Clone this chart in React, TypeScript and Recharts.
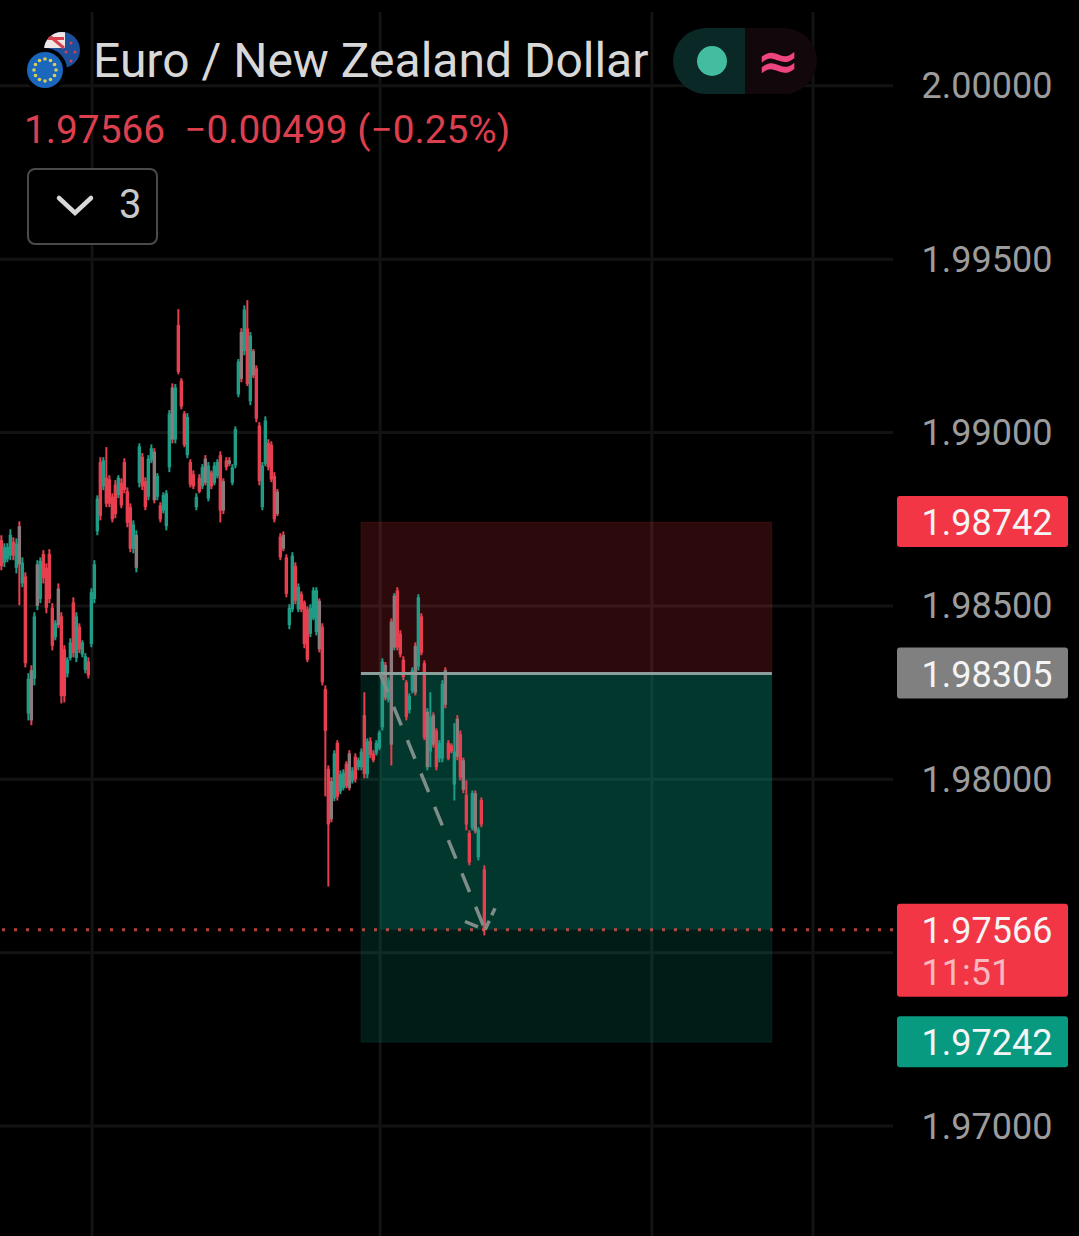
import React from "react";
import {
  ComposedChart,
  Bar,
  XAxis,
  YAxis,
  CartesianGrid,
  ReferenceArea,
  ReferenceLine,
} from "recharts";

// Candle values, in points (1/100000) away from 1.98000, one entry per candle.
const highPts = [704,681,681,721,698,695,744,640,597,306,329,482,632,640,661,623,664,508,459,565,482,387,352,407,525,482,450,401,364,352,551,632,819,929,929,958,877,825,863,877,868,926,842,796,747,718,969,941,871,935,966,955,883,799,828,834,1065,1142,1140,1356,1157,1062,1056,923,891,825,880,909,935,915,891,915,923,946,868,929,929,909,1018,1212,1301,1367,1382,1290,1241,1194,1030,915,1047,981,975,886,837,710,715,649,505,655,626,565,542,516,499,505,554,554,522,450,271,40,6,84,113,26,29,52,84,35,75,63,89,251,118,121,84,113,141,349,338,294,464,537,554,430,355,286,248,323,395,534,479,343,205,251,193,147,113,286,323,113,104,162,185,141,63,-3,-147,-32,-32,-138,-52,-248];
const lowPts = [603,612,626,632,632,594,502,554,323,170,156,271,488,508,565,479,508,372,401,436,219,222,294,343,352,338,364,352,306,291,381,508,704,747,834,785,785,741,753,811,782,825,727,655,652,597,842,834,776,805,912,796,805,741,767,718,886,969,969,1168,1067,958,926,842,837,776,825,837,848,802,837,848,868,741,765,891,903,848,897,1102,1145,1223,1134,1079,1157,1030,848,776,903,891,857,741,759,632,658,525,433,482,505,482,482,378,338,410,459,415,366,271,-49,-309,-124,-63,-61,-43,-32,-26,-32,-12,-9,26,26,3,3,61,49,69,84,141,228,222,40,372,372,352,286,170,190,248,242,314,358,113,26,35,92,26,49,49,205,55,75,-61,55,-3,-40,-147,-248,-147,-156,-234,-138,-450];
const openPts = [690,625,635,645,685,610,730,565,585,190,315,290,500,520,650,610,650,495,410,550,470,375,305,350,510,350,440,360,315,340,390,520,715,915,845,870,865,815,850,820,855,915,830,785,665,610,855,930,860,815,920,945,815,790,775,730,900,1130,980,1310,1150,1055,935,915,880,785,870,845,925,810,885,855,875,935,860,920,920,855,905,1110,1290,1235,1300,1090,1235,1185,1020,785,910,970,965,875,830,700,705,640,445,490,615,490,535,510,490,420,465,425,515,440,260,30,-5,-55,105,-35,-25,45,75,-5,65,35,35,185,15,110,75,75,90,150,330,230,455,380,545,420,345,280,200,255,385,325,470,335,35,80,185,140,60,60,315,105,98,-15,175,130,55,-45,-155,-140,-40,-225,-60,-260];
const closePts = [615,670,670,705,645,680,620,625,335,290,170,470,620,630,580,495,520,385,450,445,240,240,345,395,365,470,375,395,355,300,540,620,810,760,920,795,795,750,765,870,790,835,740,665,735,705,960,845,785,925,955,805,875,750,820,825,1055,980,1130,1175,1075,965,1045,850,845,815,830,900,855,905,845,905,915,775,775,900,910,900,1010,1205,1155,1355,1140,1280,1165,1040,860,905,1035,900,865,750,765,640,665,535,495,645,515,555,490,390,345,495,545,545,375,280,140,-130,-115,75,-50,15,20,-20,-25,25,0,55,80,15,110,70,55,105,135,340,235,285,100,530,380,360,295,180,240,315,250,525,365,120,195,180,100,35,105,275,215,60,80,80,65,5,-30,-130,-240,-40,-150,-145,-130,-434];
const mutedBars = [6,10,12,19,45,51,57,68,74,76,80,84,92,94,106,110,116,128,130,131,138,142,144,148,152,154,158];

// Axis and levels
const basePrice = 1.98;
const axisPrices = [2.0, 1.995, 1.99, 1.985, 1.98, 1.97];
const gridPrices = [2.0, 1.995, 1.99, 1.985, 1.98, 1.975, 1.97];
const gridTimes = [30.2, 126.2, 216.8, 270.5];
const stopPrice = 1.98742;
const entryPrice = 1.98305;
const lastPrice = 1.97566;
const targetPrice = 1.97242;
const countdown = "11:51";
const positionStart = 119.8;
const entryTime = 126.2;
const positionEnd = 256.8;
const arrowTimes = [126.2, 161.2, 154.5, 164.5];
const arrowPrices = [1.98305, 1.97566, 1.9759, 1.97628];

const title = "Euro / New Zealand Dollar";
const changeText = "1.97566  \u22120.00499 (\u22120.25%)";
const indicatorCount = "3";

const candles = highPts.map((h, i) => ({
  i,
  range: [basePrice + lowPts[i] / 1e5, basePrice + h / 1e5],
  open: basePrice + openPts[i] / 1e5,
  close: basePrice + closePts[i] / 1e5,
}));

const UP = "#1f9c86";
const DOWN = "#e83f50";
const MUTED = "#8a7c7c";
const FONT = "Roboto, sans-serif";

function Candle(props: any) {
  const { x, y, width, height, payload } = props;
  const top = Math.min(y, y + height);
  const h = Math.abs(height);
  const [lo, hi] = payload.range;
  const toY = (v: number) => top + ((hi - v) / (hi - lo)) * h;
  const yo = toY(payload.open);
  const yc = toY(payload.close);
  const up = payload.close >= payload.open;
  const color = mutedBars.includes(payload.i) ? MUTED : up ? UP : DOWN;
  const wickColor = up ? UP : DOWN;
  const cx = x + width / 2;
  return (
    <g>
      <rect x={cx - 1} y={top} width={2} height={h} fill={wickColor} />
      <rect x={cx - 1.7} y={Math.min(yo, yc)} width={3.4} height={Math.max(1, Math.abs(yc - yo))} fill={color} />
    </g>
  );
}

const tagColors: Record<string, string> = {
  [stopPrice.toFixed(5)]: "#f23645",
  [entryPrice.toFixed(5)]: "#808080",
  [lastPrice.toFixed(5)]: "#f23645",
  [targetPrice.toFixed(5)]: "#089981",
};

function PriceTick(props: any) {
  const { x, y, payload } = props;
  const label = Number(payload.value).toFixed(5);
  const tag = tagColors[label];
  const textX = x + 28.5;
  const common = { fontFamily: FONT, fontSize: 36 };
  if (!tag) {
    return (
      <text x={textX} y={y + 12.5} fill="#9c9c9c" {...common}>
        {label}
      </text>
    );
  }
  const isLast = label === lastPrice.toFixed(5);
  return (
    <g>
      <rect x={x + 4} y={y - 26} width={171} height={isLast ? 93 : 51} rx={3} fill={tag} />
      <text x={textX} y={y + 13} fill="#f4f4f4" {...common}>
        {label}
      </text>
      {isLast ? (
        <text x={textX} y={y + 55} fill="#f7b9bf" {...common}>
          {countdown}
        </text>
      ) : null}
    </g>
  );
}

const euStars = Array.from({ length: 12 }, (_, k) => k);

function Flags() {
  return (
    <svg width={90} height={70} style={{ position: "absolute", left: 0, top: 25 }}>
      <defs>
        <clipPath id="nz">
          <circle cx={62} cy={25} r={18} />
        </clipPath>
      </defs>
      <g clipPath="url(#nz)">
        <rect x={40} y={5} width={50} height={50} fill="#1c4f9c" />
        <rect x={44} y={7} width={21} height={16} fill="#efe6e6" />
        <line x1={46} y1={8} x2={64} y2={23} stroke="#d8404f" strokeWidth={3} />
        <rect x={44} y={12} width={20} height={3} fill="#d8404f" />
        <circle cx={71} cy={18} r={1.5} fill="#d8404f" />
        <circle cx={66} cy={27} r={1.5} fill="#d8404f" />
        <circle cx={75} cy={27} r={1.5} fill="#d8404f" />
        <circle cx={71} cy={36} r={1.5} fill="#d8404f" />
      </g>
      <circle cx={45} cy={45} r={22} fill="#000" />
      <circle cx={45} cy={45} r={18} fill="#1a67bd" />
      {euStars.map((k) => (
        <circle
          key={k}
          cx={45 + 11 * Math.cos((k * Math.PI) / 6)}
          cy={45 + 11 * Math.sin((k * Math.PI) / 6)}
          r={1.8}
          fill="#d9cf5a"
        />
      ))}
    </svg>
  );
}

function Header() {
  return (
    <>
      <Flags />
      <div
        style={{
          position: "absolute",
          left: 93,
          top: 34,
          fontFamily: FONT,
          fontSize: 48,
          lineHeight: "54px",
          color: "#d8d8d8",
          whiteSpace: "pre",
        }}
      >
        {title}
      </div>
      <div
        style={{
          position: "absolute",
          left: 24,
          top: 107,
          fontFamily: FONT,
          fontSize: 38.8,
          lineHeight: "46px",
          color: "#dc3f4d",
          whiteSpace: "pre",
        }}
      >
        {changeText}
      </div>
      <div
        style={{
          position: "absolute",
          left: 27,
          top: 168,
          width: 127,
          height: 73,
          border: "2.5px solid #4a4a4a",
          borderRadius: 8,
          background: "#000",
        }}
      >
        <svg width={60} height={40} style={{ position: "absolute", left: 24, top: 18 }}>
          <path d="M6 10 L22 25 L38 10" fill="none" stroke="#d8d8d8" strokeWidth={4.5} strokeLinecap="round" />
        </svg>
        <div
          style={{
            position: "absolute",
            left: 90,
            top: 13,
            fontFamily: FONT,
            fontSize: 40,
            lineHeight: "44px",
            color: "#c8c8c8",
          }}
        >
          {indicatorCount}
        </div>
      </div>
      <div
        style={{
          position: "absolute",
          left: 673,
          top: 28,
          width: 72,
          height: 66,
          background: "#0a2825",
          borderRadius: "33px 0 0 33px",
        }}
      />
      <div
        style={{
          position: "absolute",
          left: 745,
          top: 28,
          width: 72,
          height: 66,
          background: "#12080b",
          borderRadius: "0 33px 33px 0",
        }}
      />
      <div
        style={{
          position: "absolute",
          left: 697,
          top: 46,
          width: 30,
          height: 30,
          borderRadius: 15,
          background: "#42bd9f",
        }}
      />
      <div
        style={{
          position: "absolute",
          left: 745,
          top: 28,
          width: 66,
          height: 66,
          lineHeight: "66px",
          textAlign: "center",
          fontFamily: "'DejaVu Sans', sans-serif",
          fontWeight: 700,
          fontSize: 52,
          color: "#ee4580",
        }}
      >
        {"\u2248"}
      </div>
    </>
  );
}

export default function App() {
  const arrow = "#7f8d89";
  return (
    <div style={{ position: "absolute", left: 0, top: 0, width: 1079, height: 1236, background: "#000", overflow: "hidden" }}>
      <ComposedChart
        width={1079}
        height={1236}
        data={candles}
        margin={{ top: 12, right: 0, bottom: 0, left: 0 }}
        barSize={3}
      >
        <CartesianGrid stroke="#131313" strokeWidth={3} horizontalValues={gridPrices} verticalValues={gridTimes} />
        <XAxis type="number" dataKey="i" domain={[-0.5, 297.17]} hide allowDataOverflow />
        <YAxis
          orientation="right"
          width={186}
          type="number"
          domain={[1.96683, 2.00213]}
          ticks={[...axisPrices, stopPrice, entryPrice, lastPrice, targetPrice]}
          interval={0}
          tickLine={false}
          axisLine={false}
          tickSize={0}
          tickMargin={0}
          tick={PriceTick}
          allowDataOverflow
        />
        <ReferenceArea x1={positionStart} x2={positionEnd} y1={entryPrice} y2={stopPrice} fill="#f23645" fillOpacity={0.18} stroke="#f23645" strokeOpacity={0.1} />
        <ReferenceArea x1={positionStart} x2={positionEnd} y1={targetPrice} y2={entryPrice} fill="#089981" fillOpacity={0.18} stroke="#089981" strokeOpacity={0.12} />
        <ReferenceArea x1={entryTime} x2={positionEnd} y1={lastPrice} y2={entryPrice} fill="#089981" fillOpacity={0.22} />
        <ReferenceLine
          stroke="#8d9f9b"
          strokeWidth={3}
          segment={[{ x: positionStart, y: entryPrice }, { x: positionEnd, y: entryPrice }]}
        />
        <ReferenceLine
          stroke={arrow}
          strokeWidth={3.5}
          strokeDasharray="20 16"
          segment={[{ x: arrowTimes[0], y: arrowPrices[0] }, { x: arrowTimes[1], y: arrowPrices[1] }]}
        />
        <ReferenceLine
          stroke={arrow}
          strokeWidth={3.5}
          strokeDasharray="14 6"
          segment={[{ x: arrowTimes[2], y: arrowPrices[2] }, { x: arrowTimes[1], y: arrowPrices[1] }]}
        />
        <ReferenceLine
          stroke={arrow}
          strokeWidth={3.5}
          strokeDasharray="10 6"
          segment={[{ x: arrowTimes[1], y: arrowPrices[1] }, { x: arrowTimes[3], y: arrowPrices[3] }]}
        />
        <Bar dataKey="range" shape={Candle} isAnimationActive={false} />
        <ReferenceLine y={lastPrice} stroke="#e0504f" strokeOpacity={0.8} strokeWidth={3} strokeDasharray="3 9" />
      </ComposedChart>
      <Header />
    </div>
  );
}
